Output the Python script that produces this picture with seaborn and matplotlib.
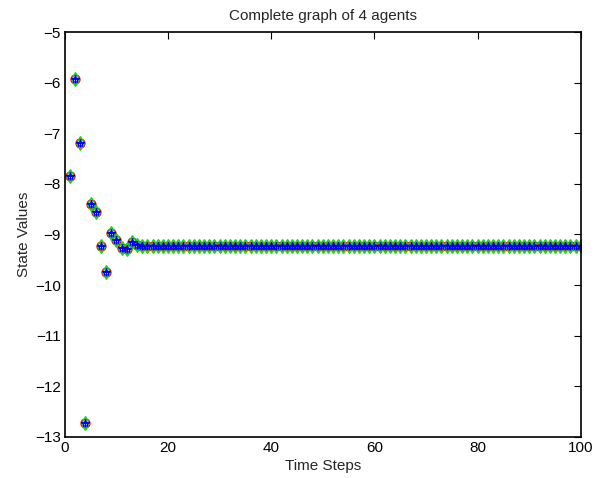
import numpy as np
import pandas as pd
import matplotlib
matplotlib.use("Agg")
import matplotlib.pyplot as plt
import seaborn as sns

# values (all 4 agents overlap)
time_steps = list(range(1, 101))
early_states = [-7.85, -5.93, -7.19, -12.73, -8.40, -8.56, -9.23,
                -9.74, -8.97, -9.11, -9.26, -9.28, -9.14, -9.20]
consensus = -9.23
states = early_states + [consensus] * (len(time_steps) - len(early_states))

agent_styles = [("o", "red", 6.5), ("d", "#00e000", 7), ("*", "blue", 6), ("+", "blue", 6)]

df = pd.DataFrame({"t": time_steps, "x": states})

sns.set_style("white")
plt.rcParams["font.family"] = ["Liberation Sans", "DejaVu Sans"]

fig = plt.figure(figsize=(6, 4.78), dpi=100)
ax = fig.add_axes([0.108, 0.086, 0.86, 0.847])

for marker, color, size in agent_styles:
    sns.lineplot(data=df, x="t", y="x", ax=ax, linestyle="none",
                 marker=marker, markersize=size, markeredgecolor=color,
                 markerfacecolor="none", markeredgewidth=0.9)

ax.set_xlim(0, 100)
ax.set_ylim(-13, -5)
ax.set_xticks(np.arange(0, 101, 20))
ax.set_yticks(np.arange(-13, -4, 1))
ax.set_yticklabels([f"\u2212{abs(v)}" for v in range(-13, -4)])
ax.tick_params(direction="in", top=True, right=True, length=5, width=0.8,
               labelsize=11, colors="black", pad=3)
for s in ax.spines.values():
    s.set_visible(True)
    s.set_color("black")
    s.set_linewidth(1.2)

ax.set_xlabel("Time Steps", fontsize=11, labelpad=3)
ax.set_ylabel("State Values", fontsize=11, labelpad=3)
ax.set_title("Complete graph of 4 agents", fontsize=11, pad=9)

fig.savefig("out.png", dpi=100)
